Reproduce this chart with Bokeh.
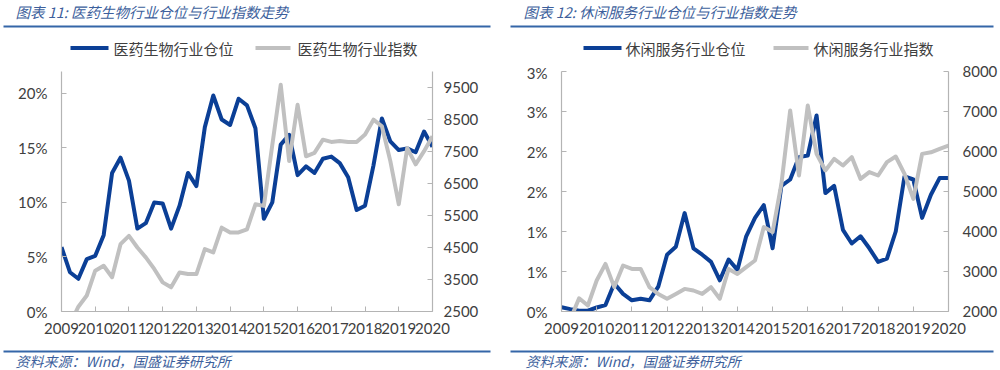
import numpy as np
from bokeh.plotting import figure
from bokeh.models import (Range1d, LinearAxis, FixedTicker, Label, BoxAnnotation,
                          ColumnDataSource)
from bokeh.layouts import row, column
from bokeh.embed import file_html
from bokeh.resources import INLINE

# ---------------- data ----------------
years = [2009, 2010, 2011, 2012, 2013, 2014, 2015, 2016, 2017, 2018, 2019, 2020]
year_labels = ["2009", "2010", "2011", "2012", "2013", "2014", "2015", "2016",
               "2017", "2018", "2019", "2020"]
# quarterly observation dates (2009Q1 .. 2020Q1)
quarters = [2009 + i / 4 for i in range(45)]

# 医药生物行业仓位 (%)
med_pos = [5.9, 3.6, 3.0, 4.8, 5.1, 7.0, 12.7, 14.1, 12.0, 7.6,
           8.1, 10.0, 9.9, 7.6, 9.7, 12.7, 11.5, 16.9, 19.8, 17.6,
           17.1, 19.5, 18.9, 16.8, 8.5, 10.0, 15.3, 16.2, 12.5, 13.3,
           12.7, 14.0, 14.2, 13.6, 12.3, 9.3, 9.7, 13.4, 17.7, 15.6,
           14.8, 14.95, 14.6, 16.5, 15.1]
# 医药生物行业指数
med_idx = [np.nan, 2100, 2650, 3000, 3775, 3930, 3570, 4605, 4865, 4500,
           4190, 3830, 3410, 3255, 3720, 3670, 3670, 4450, 4345, 5120,
           4970, 4970, 5070, 5850, 5800, 7700, 9585, 7200, 8960, 7350,
           7455, 7870, 7800, 7830, 7800, 7800, 8030, 8495, 8290, 7200,
           5850, 7610, 7100, 7510, 7980]
# 休闲服务行业仓位 (%)
leis_pos = [0.054, 0.03, 0.01, 0.01, 0.05, 0.08, 0.35, 0.22, 0.14, 0.16,
            0.14, 0.31, 0.71, 0.81, 1.23, 0.79, 0.71, 0.62, 0.39, 0.65,
            0.52, 0.94, 1.17, 1.33, 0.79, 1.57, 1.65, 1.93, 1.95, 2.45,
            1.48, 1.57, 1.02, 0.85, 0.94, 0.79, 0.62, 0.66, 1.0, 1.69,
            1.65, 1.17, 1.46, 1.67, 1.67]
# 休闲服务行业指数
leis_idx = [np.nan, 1800, 2330, 2150, 2775, 3190, 2610, 3150, 3065, 3065,
            2610, 2440, 2320, 2440, 2565, 2525, 2440, 2610, 2320, 3065,
            2940, 3110, 3275, 4110, 3985, 5190, 7025, 5400, 7150, 5940,
            5525, 5815, 5650, 5860, 5315, 5485, 5400, 5735, 5875, 5440,
            4815, 5940, 5980, 6065, 6150]

med_pct_ticks = [0, 5, 10, 15, 20]
med_pct_labels = ["0%", "5%", "10%", "15%", "20%"]
med_idx_ticks = [2500, 3500, 4500, 5500, 6500, 7500, 8500, 9500]
leis_pct_ticks = [0, 0.5, 1, 1.5, 2, 2.5, 3]
leis_pct_labels = ["0%", "1%", "1%", "2%", "2%", "3%", "3%"]
leis_idx_ticks = [2000, 3000, 4000, 5000, 6000, 7000, 8000]

source_text = "资料来源：Wind，国盛证券研究所"

# ---------------- style ----------------
BLUE = "#0b3f96"
GREY = "#c0c0c0"
AXIS = "#b4b4b4"
TXT = "#404040"
TITLE_C = "#3d5f9c"
RULE_C = "#3566a8"
NUM_FONT = "Lato"
CJK = "Noto Sans CJK SC"
PANEL_W = 500
HEAD_H = 63
CHART_H = 277
FOOT_H = 30


def style_axis(ax, standoff):
    ax.axis_line_color = AXIS
    ax.axis_line_width = 1.2
    ax.major_tick_line_color = AXIS
    ax.major_tick_in = 5
    ax.major_tick_out = 0
    ax.minor_tick_line_color = None
    ax.major_label_text_font = NUM_FONT
    ax.major_label_text_font_size = "15px"
    ax.major_label_text_color = TXT
    ax.major_label_standoff = standoff


def blank(height):
    f = figure(width=PANEL_W, height=height, x_range=Range1d(0, PANEL_W),
               y_range=Range1d(0, height), x_axis_type=None, y_axis_type=None,
               output_backend="svg", toolbar_location=None,
               min_border_left=0, min_border_right=0, min_border_top=0,
               min_border_bottom=0, frame_align=False)
    f.outline_line_color = None
    f.xgrid.visible = False
    f.ygrid.visible = False
    f.background_fill_color = "white"
    f.border_fill_color = "white"
    return f


def header(title, name_pos, name_idx, title_x, rule_l, rule_r,
           blue_x, blue_txt, grey_x, grey_txt):
    h = blank(HEAD_H)
    h.add_layout(Label(x=title_x, y=52, text=title, text_font=CJK,
                       text_font_style="italic", text_font_size="14.5px",
                       text_color=TITLE_C, text_baseline="middle"))
    h.add_layout(BoxAnnotation(left=rule_l, right=rule_r, bottom=36, top=38,
                               fill_color=RULE_C, fill_alpha=1, line_alpha=0))
    h.line(blue_x, [15.5, 15.5], line_color=BLUE, line_width=4)
    h.line(grey_x, [15.5, 15.5], line_color=GREY, line_width=4)
    h.add_layout(Label(x=blue_txt, y=15.5, text=name_pos, text_font=CJK,
                       text_font_size="15px", text_color=TXT,
                       text_baseline="middle"))
    h.add_layout(Label(x=grey_txt, y=15.5, text=name_idx, text_font=CJK,
                       text_font_size="15px", text_color=TXT,
                       text_baseline="middle"))
    return h


def footer(src_x, rule_l, rule_r):
    f = blank(FOOT_H)
    f.add_layout(BoxAnnotation(left=rule_l, right=rule_r, bottom=18, top=20,
                               fill_color=RULE_C, fill_alpha=1, line_alpha=0))
    f.add_layout(Label(x=src_x, y=10, text=source_text, text_font=CJK,
                       text_font_style="italic", text_font_size="14px",
                       text_color=TITLE_C, text_baseline="middle"))
    return f


def chart(left_b, right_b, pct_max, pct_ticks, pct_labels, idx_range,
          idx_ticks, pos, idx, r_standoff):
    p = figure(width=PANEL_W, height=CHART_H, x_range=Range1d(2009, 2020),
               y_range=Range1d(0, pct_max), output_backend="svg",
               toolbar_location=None, min_border_left=left_b,
               min_border_right=right_b, min_border_top=8,
               min_border_bottom=29, frame_align=False)
    p.outline_line_color = None
    p.xgrid.visible = False
    p.ygrid.visible = False
    p.background_fill_color = "white"
    p.border_fill_color = "white"

    p.extra_y_ranges = {"idx": Range1d(*idx_range)}
    ax_r = LinearAxis(y_range_name="idx", ticker=FixedTicker(ticks=idx_ticks))
    style_axis(ax_r, r_standoff)
    p.add_layout(ax_r, "right")

    xa = p.xaxis[0]
    xa.ticker = FixedTicker(ticks=years)
    xa.major_label_overrides = {y: l for y, l in zip(years, year_labels)}
    style_axis(xa, 11)

    ya = p.yaxis[0]
    ya.ticker = FixedTicker(ticks=pct_ticks)
    ya.major_label_overrides = {t: l for t, l in zip(pct_ticks, pct_labels)}
    style_axis(ya, 14)

    src = ColumnDataSource(dict(x=quarters, pos=pos,
                                idx=np.array(idx, dtype=float)))
    p.line("x", "pos", source=src, line_color=BLUE, line_width=4,
           line_join="round")
    p.line("x", "idx", source=src, line_color=GREY, line_width=4,
           line_join="round", y_range_name="idx")
    return p


h1 = header("图表 11: 医药生物行业仓位与行业指数走势",
            "医药生物行业仓位", "医药生物行业指数",
            15, 3, 490, [70, 108], 113, [255, 290], 297)
c1 = chart(61, 68, 22, med_pct_ticks, med_pct_labels, (2500, 10000),
           med_idx_ticks, med_pos, med_idx, 11)
f1 = footer(15, 3, 490)

h2 = header("图表 12: 休闲服务行业仓位与行业指数走势",
            "休闲服务行业仓位", "休闲服务行业指数",
            23, 10, 493, [83, 121], 125, [273, 308], 313)
c2 = chart(61, 52, 3, leis_pct_ticks, leis_pct_labels, (2000, 8000),
           leis_idx_ticks, leis_pos, leis_idx, 14)
f2 = footer(25, 10, 493)

layout = row(column(h1, c1, f1), column(h2, c2, f2))
open("out.html", "w").write(file_html(layout, INLINE))
